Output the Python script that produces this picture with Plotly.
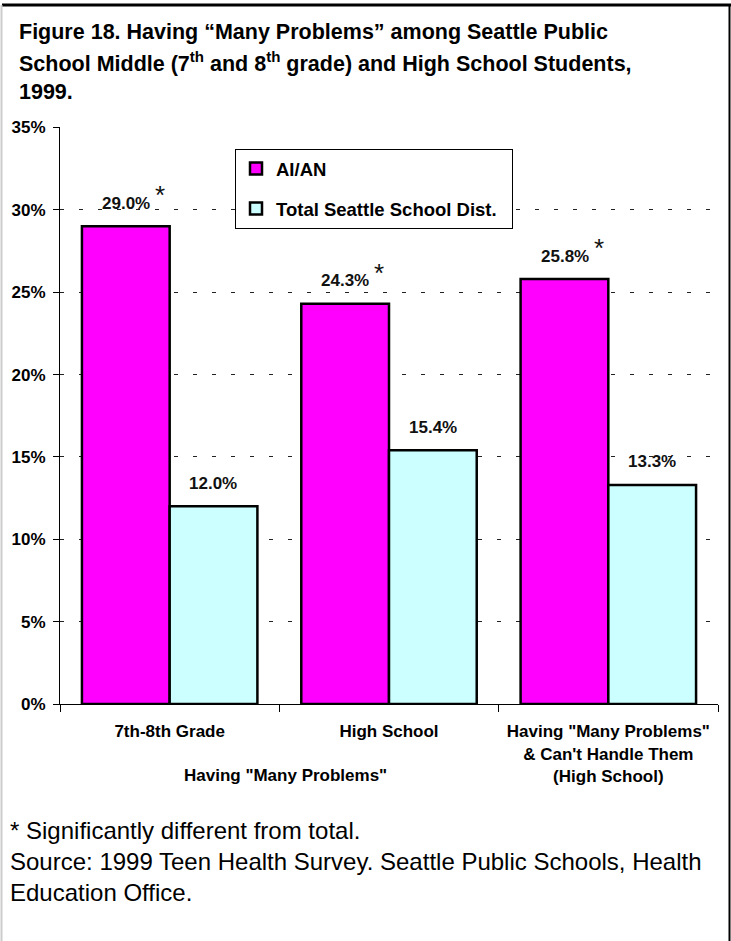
import plotly.graph_objects as go

categories = ["7th-8th Grade", "High School",
              "Having \"Many Problems\"<br>& Can't Handle Them<br>(High School)"]
aian = [29.0, 24.3, 25.8]
total = [12.0, 15.4, 13.3]
aian_sig = [True, True, True]
series_names = ["AI/AN", "Total Seattle School Dist."]
y_ticks = [0, 5, 10, 15, 20, 25, 30, 35]
y_tick_labels = ["0%", "5%", "10%", "15%", "20%", "25%", "30%", "35%"]

title_lines = [
    "Figure 18. Having \u201cMany Problems\u201d among Seattle Public",
    "School Middle (7<sup>th</sup> and 8<sup>th</sup> grade) and High School Students,",
    "1999.",
]
foot_lines = [
    "* Significantly different from total.",
    "Source: 1999 Teen Health Survey. Seattle Public Schools, Health",
    "Education Office.",
]
group_label = "Having \"Many Problems\""

W, H = 731, 941
L, R, T, B = 60, 13, 127, 237
PW, PH = W - L - R, H - T - B

FONT = "Liberation Sans, Arial, sans-serif"
LBL = dict(family=FONT, size=17, color="#111", weight="bold")


def px(x):
    return (x - L) / PW


def py(y):
    return (H - B - y) / PH


fig = go.Figure()
fig.add_bar(x=categories, y=aian, name=series_names[0],
            marker=dict(color="#FF00FF", line=dict(color="black", width=2.5)),
            legendgroup="a")
fig.add_bar(x=categories, y=total, name=series_names[1] + "\u00a0\u00a0",
            marker=dict(color="#CCFFFF", line=dict(color="black", width=2.5)),
            legendgroup="b")

ann = []
bar_off = 43.75
for i, c in enumerate(categories):
    ann.append(dict(x=c, y=aian[i], xref="x", yref="y", text=f"{aian[i]:.1f}%",
                    showarrow=False, xshift=-bar_off, yshift=23,
                    font=LBL, yanchor="middle"))
    if aian_sig[i]:
        ann.append(dict(x=c, y=aian[i], xref="x", yref="y", text="*",
                        showarrow=False, xshift=-bar_off + 34, yshift=31,
                        font=dict(family=FONT, size=26, color="#111"), yanchor="middle"))
    ann.append(dict(x=c, y=total[i], xref="x", yref="y", text=f"{total[i]:.1f}%",
                    showarrow=False, xshift=bar_off, yshift=23,
                    font=LBL, yanchor="middle"))

for line, yy in zip(title_lines, [32, 62, 92]):
    ann.append(dict(x=px(17), y=py(yy), xref="paper", yref="paper", text=line,
                    showarrow=False, xanchor="left", yanchor="middle",
                    font=dict(family=FONT, size=21.5, color="black", weight="bold")))
for line, yy in zip(foot_lines, [830, 861, 892]):
    ann.append(dict(x=px(8), y=py(yy), xref="paper", yref="paper", text=line,
                    showarrow=False, xanchor="left", yanchor="middle",
                    font=dict(family=FONT, size=24, color="black")))
ann.append(dict(x=px(285), y=py(775), xref="paper", yref="paper", text=group_label,
                showarrow=False, xanchor="center", yanchor="middle",
                font=dict(family=FONT, size=17, color="black", weight="bold")))

shapes = [
    dict(type="line", xref="paper", yref="paper", x0=px(2), x1=px(731), y0=py(5), y1=py(5),
         line=dict(color="black", width=3)),
    dict(type="line", xref="paper", yref="paper", x0=px(729.5), x1=px(729.5), y0=py(4), y1=py(941),
         line=dict(color="black", width=2)),
    dict(type="line", xref="paper", yref="paper", x0=px(1.5), x1=px(1.5), y0=py(5), y1=py(941),
         line=dict(color="#cccccc", width=2)),
]

fig.update_layout(
    width=W, height=H, margin=dict(l=L, r=R, t=T, b=B),
    paper_bgcolor="white", plot_bgcolor="white",
    barmode="group", bargap=0.2, bargroupgap=0,
    showlegend=True,
    legend=dict(x=px(235), y=py(149), xanchor="left", yanchor="top",
                bordercolor="black", borderwidth=1, bgcolor="white",
                font=dict(family=FONT, size=18.5, color="black", weight="bold"),
                tracegroupgap=13, traceorder="grouped", itemwidth=30),
    annotations=ann, shapes=shapes,
    xaxis=dict(showline=True, linecolor="black", linewidth=1,
               ticks="outside", ticklen=7, tickcolor="black", tickson="boundaries",
               tickfont=dict(family=FONT, size=17, color="black", weight="bold"),
               ticklabelstandoff=12, showgrid=False),
    yaxis=dict(range=[0, 35.03], tickvals=y_ticks, ticktext=y_tick_labels,
               showline=True, linecolor="black", linewidth=1,
               ticks="outside", ticklen=6, tickcolor="black",
               tickfont=dict(family=FONT, size=17, color="black", weight="bold"),
               ticklabelstandoff=4,
               showgrid=True, gridcolor="#222", gridwidth=1, griddash="4px,15px",
               zeroline=False, fixedrange=True),
)

fig.write_html("out.html")
